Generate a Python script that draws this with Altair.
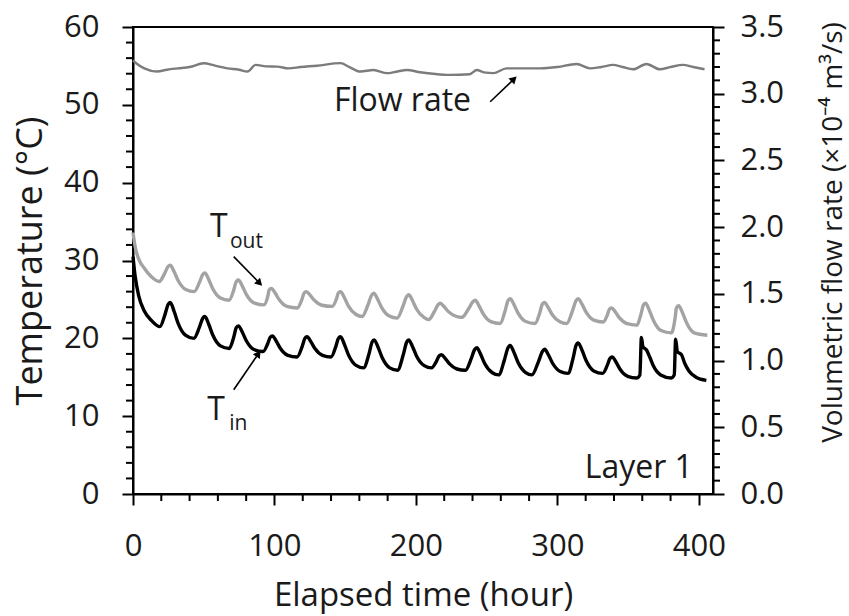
import altair as alt
import pandas as pd

# ---------------- data ----------------
hours_in = [0, 1.5, 4, 8, 13, 19,
            22.6, 24.8, 26.3, 29.1, 31.9, 37.3, 43,
            46.9, 49.3, 50.8, 53.6, 56.4, 61.8, 68,
            71.2, 73, 74.5, 77.3, 80.1, 85.5, 92,
            95.2, 97, 98.5, 101.3, 104.1, 109.5, 116,
            119.5, 121.5, 123, 125.8, 128.6, 134, 140,
            143.3, 145.2, 146.7, 149.5, 152.3, 157.7, 163,
            166.8, 169, 170.5, 173.3, 176.1, 181.5, 187,
            191, 193.4, 194.9, 197.7, 200.5, 205.9, 211,
            214.5, 216.5, 218, 220.8, 223.6, 229, 235,
            239, 241.5, 243, 245.8, 248.6, 254, 258.5,
            262.5, 265.1, 266.6, 269.4, 272.2, 277.6, 282,
            286.5, 289.5, 291, 293.8, 296.6, 302, 307.5,
            311.1, 313.2, 314.7, 317.5, 320.3, 325.7, 332,
            335.3, 337.2, 338.7, 341.5, 344.3, 349.7, 356,
            358.3, 359.4, 360.5, 363, 365.5, 368, 373, 380.6,
            382.6, 383.6, 384.8, 387.7, 390, 393, 398, 405.3]
temp_in = [30.5, 28.0, 25.5, 23.5, 22.3, 21.5,
           23.05, 24.35, 24.6, 23.45, 21.93, 20.37, 20.0,
           21.4, 22.58, 22.8, 21.78, 20.42, 19.03, 18.7,
           20.15, 21.37, 21.6, 20.78, 19.69, 18.56, 18.3,
           19.3, 20.14, 20.3, 19.63, 18.73, 17.82, 17.6,
           18.9, 19.99, 20.2, 19.55, 18.69, 17.81, 17.6,
           18.9, 19.99, 20.2, 19.2, 17.88, 16.52, 16.2,
           18.0, 19.51, 19.8, 18.83, 17.54, 16.21, 15.9,
           17.85, 19.49, 19.8, 18.9, 17.71, 16.49, 16.2,
           17.05, 17.76, 17.9, 17.4, 16.74, 16.06, 15.9,
           17.35, 18.57, 18.8, 17.93, 16.77, 15.58, 15.3,
           17.2, 18.8, 19.1, 18.15, 16.9, 15.6, 15.3,
           16.95, 18.34, 18.6, 17.83, 16.8, 15.75, 15.5,
           17.45, 19.09, 19.4, 18.43, 17.14, 15.81, 15.5,
           16.55, 17.43, 17.6, 16.93, 16.03, 15.12, 14.9,
           15.3, 20.1, 18.9, 18.5, 17.5, 16.4, 15.3, 14.9,
           15.3, 19.9, 18.3, 17.9, 16.8, 15.8, 15.0, 14.6]

hours_out = [0, 1.5, 4, 8, 13, 18.5,
             22.4, 24.8, 26.3, 29.1, 31.9, 37.3, 43.2,
             47, 49.3, 50.8, 53.6, 56.4, 61.8, 67.9,
             71.2, 73, 74.5, 77.3, 80.1, 85.5, 92.6,
             95.2, 96.3, 97.8, 100.6, 103.4, 108.8, 116.1,
             119.3, 121, 122.5, 125.3, 128.1, 133.5, 140.8,
             143.8, 145.2, 146.7, 149.5, 152.3, 157.7, 162,
             166.1, 168.7, 170.2, 173, 175.8, 181.2, 186.7,
             190.8, 193.4, 194.9, 197.7, 200.5, 205.9, 209,
             213.1, 215.7, 217.2, 220, 222.8, 228.2, 232.5,
             237.2, 240.4, 241.9, 244.7, 247.5, 252.9, 259.5,
             263, 265.1, 266.6, 269.4, 272.2, 277.6, 284.2,
             287.5, 289.3, 290.8, 293.6, 296.4, 301.8, 306.6,
             310.6, 313.2, 314.7, 317.5, 320.3, 325.7, 332.4,
             335.3, 336.8, 338.3, 341.1, 343.9, 349.3, 355.9,
             359.1, 360.8, 362.3, 365.1, 367.9, 373.3, 380.6,
             383.1, 384.2, 385.7, 388.5, 391.3, 396.7, 406]
temp_out = [33.6, 31.8, 30.2, 29.0, 27.9, 27.3,
            28.35, 29.23, 29.4, 28.55, 27.43, 26.27, 26.0,
            27.2, 28.21, 28.4, 27.53, 26.37, 25.18, 24.9,
            26.2, 27.29, 27.5, 26.7, 25.64, 24.56, 24.3,
            25.35, 26.23, 26.4, 25.78, 24.95, 24.1, 23.9,
            24.95, 25.83, 26.0, 25.53, 24.9, 24.25, 24.1,
            25.05, 25.85, 26.0, 25.2, 24.14, 23.06, 22.8,
            24.3, 25.56, 25.8, 25.0, 23.94, 22.86, 22.6,
            24.1, 25.36, 25.6, 24.8, 23.74, 22.66, 22.4,
            23.45, 24.33, 24.5, 24.05, 23.46, 22.84, 22.7,
            23.8, 24.72, 24.9, 24.15, 23.16, 22.14, 21.9,
            23.5, 24.84, 25.1, 24.3, 23.24, 22.16, 21.9,
            23.25, 24.38, 24.6, 23.93, 23.03, 22.12, 21.9,
            23.5, 24.84, 25.1, 24.35, 23.36, 22.34, 22.1,
            23.0, 23.76, 23.9, 23.35, 22.62, 21.88, 21.7,
            23.1, 24.28, 24.5, 23.55, 22.3, 21.0, 20.7,
            22.45, 23.92, 24.2, 23.25, 22.0, 20.7, 20.4]

hours_flow = [0, 2, 8, 17, 24, 31.5, 40, 50, 58, 66.8, 75, 80.9, 86.7, 94, 102, 110, 118.5, 130,
              146.7, 153, 160.8, 170, 179.6, 186, 193.7, 203, 212, 224, 238, 243, 248, 254.8, 264,
              275, 287.7, 300, 313.6, 323, 331, 339.4, 346, 353.5, 363, 372.4, 380, 388.8, 396, 404]
flow = [3.25, 3.23, 3.19, 3.166, 3.18, 3.19, 3.20, 3.228, 3.21, 3.19, 3.18, 3.166, 3.216, 3.205,
        3.203, 3.19, 3.20, 3.21, 3.229, 3.20, 3.166, 3.178, 3.154, 3.165, 3.178, 3.161, 3.15, 3.141,
        3.146, 3.178, 3.16, 3.154, 3.19, 3.19, 3.19, 3.20, 3.223, 3.19, 3.20, 3.216, 3.20, 3.183,
        3.223, 3.183, 3.20, 3.216, 3.20, 3.183]

x_major = [0, 100, 200, 300, 400]
x_minor = [v for v in range(20, 410, 20) if v % 100 != 0]
yl_major = [0, 10, 20, 30, 40, 50, 60]
yl_minor = [v for v in range(2, 60, 2) if v % 10 != 0]
yr_major = [0.0, 0.5, 1.0, 1.5, 2.0, 2.5, 3.0, 3.5]
yr_minor = [round(v / 10, 1) for v in range(1, 35) if v % 5 != 0]

W, H = 580, 467
FONT = "Open Sans"
TXT = "#1a1a1a"
LBL = 31

xs = alt.Scale(domain=[0, 410], nice=False, zero=False)
ys_t = alt.Scale(domain=[0, 60], nice=False)
ys_f = alt.Scale(domain=[0, 3.5], nice=False)

df_in = pd.DataFrame({"h": hours_in, "v": temp_in})
df_out = pd.DataFrame({"h": hours_out, "v": temp_out})
df_flow = pd.DataFrame({"h": hours_flow, "v": flow})

x_axis = alt.Axis(values=x_major, title="Elapsed time (hour)", tickSize=11,
                  labelBaseline="alphabetic", labelPadding=50, labelFlush=False,
                  titleFontSize=33, titleX=W / 2, titleY=111, titleBaseline="alphabetic",
                  titleAlign="center")
yl_axis = alt.Axis(values=yl_major, title="Temperature (°C)", tickSize=11, labelPadding=23,
                   titleFontSize=36, titleX=-103, titleY=H / 2, titleAngle=270,
                   titleBaseline="middle", titleAlign="center")
yr_axis = alt.Axis(values=yr_major, format=".1f", orient="right",
                   title="Volumetric flow rate (×10⁻⁴ m³/s)", tickSize=11, labelPadding=16,
                   titleFontSize=28, titleX=120, titleY=205, titleAngle=270,
                   titleBaseline="middle", titleAlign="center")

X = lambda f="h": alt.X(f"{f}:Q", scale=xs, axis=x_axis)
YT = lambda f="v": alt.Y(f"{f}:Q", scale=ys_t, axis=yl_axis)
YF = lambda f="v": alt.Y(f"{f}:Q", scale=ys_f, axis=yr_axis)

line_out = alt.Chart(df_out).mark_line(color="#a3a3a3", strokeWidth=3.4, interpolate="monotone").encode(
    x=X(), y=YT())
line_in = alt.Chart(df_in).mark_line(color="#000000", strokeWidth=3.4, interpolate="monotone").encode(
    x=X(), y=YT())

# minor ticks
left_minor = alt.Chart(pd.DataFrame({"v": yl_minor})).mark_rule(color="black", strokeWidth=2).encode(
    y=YT(), x=alt.value(-7), x2=alt.value(0))
bottom_minor = alt.Chart(pd.DataFrame({"h": x_minor})).mark_rule(color="black", strokeWidth=2).encode(
    x=X(), y=alt.value(H), y2=alt.value(H + 7))

# annotations (data coordinates)
def text(df, size, align="left"):
    return alt.Chart(df).mark_text(font=FONT, fontSize=size, color=TXT, align=align,
                                   baseline="alphabetic").encode(x=X(), y=YT(), text="t:N")

ann_big = pd.DataFrame({"h": [54.5, 52.5, 142.0, 395.8],
                        "v": [33.0, 9.5, 49.2, 2.06],
                        "t": ["T", "T", "Flow rate", "Layer 1"]})
t_big = text(ann_big.iloc[:3], 32)
t_layer = text(ann_big.iloc[3:], 32, align="right")
ann_sub = pd.DataFrame({"h": [68.5, 68.0], "v": [31.6, 8.2], "t": ["out", "in"]})
t_sub = text(ann_sub, 21)

arrows = pd.DataFrame({"h": [71.2, 71.2, 252.5], "v": [30.5, 13.4, 50.4],
                       "h2": [88.9, 88.2, 268.7], "v2": [27.2, 17.9, 53.2],
                       "ang": [135, 34, 46]})
arrow_lines = alt.Chart(arrows).mark_rule(color="black", strokeWidth=1.6).encode(
    x=X(), y=YT(), x2="h2:Q", y2="v2:Q")
arrow_heads = alt.Chart(arrows).mark_point(shape="triangle", filled=True, color="black",
                                           size=70, opacity=1).encode(
    x=X("h2"), y=YT("v2"), angle=alt.Angle("ang:Q", scale=None))

left = alt.layer(line_out, line_in, left_minor, bottom_minor, arrow_lines, arrow_heads,
                 t_big, t_layer, t_sub)

flow_line = alt.Chart(df_flow).mark_line(color="#7c7c7c", strokeWidth=2.4, interpolate="monotone").encode(
    x=X(), y=YF())
right_minor = alt.Chart(pd.DataFrame({"v": yr_minor})).mark_rule(color="black", strokeWidth=2).encode(
    y=YF(), x=alt.value(W), x2=alt.value(W + 7))
right = alt.layer(flow_line, right_minor)

chart = alt.layer(left, right).resolve_scale(y="independent").properties(
    width=W, height=H,
    autosize=alt.AutoSizeParams(type="none"),
    padding={"left": 133, "top": 27, "right": 136, "bottom": 122},
    background="white",
).configure_view(stroke="black", strokeWidth=2).configure_axis(
    labelFont=FONT, labelFontSize=LBL, labelColor=TXT,
    titleFont=FONT, titleFontWeight="normal", titleColor=TXT,
    domainColor="black", domainWidth=2, tickColor="black", tickWidth=2, grid=False,
)

chart.save("out.html", embed_options={"renderer": "svg", "actions": False})
